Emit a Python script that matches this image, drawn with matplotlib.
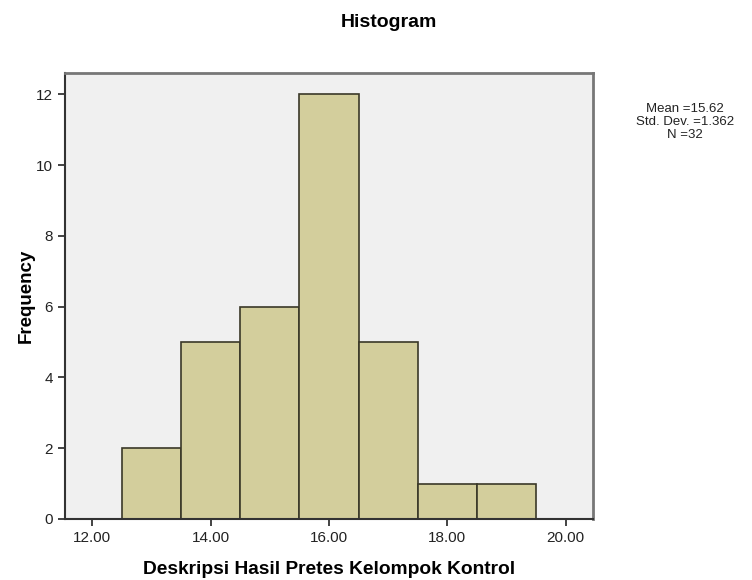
import matplotlib
matplotlib.use("Agg")
import matplotlib.pyplot as plt

plt.rcParams['font.family'] = ['Liberation Sans', 'DejaVu Sans']

bin_centers = [13, 14, 15, 16, 17, 18, 19]
frequencies = [2, 5, 6, 12, 5, 1, 1]
x_ticks = [12, 14, 16, 18, 20]
x_tick_labels = ["12.00", "14.00", "16.00", "18.00", "20.00"]
y_ticks = [0, 2, 4, 6, 8, 10, 12]
stats_text = "Mean =15.62\nStd. Dev. =1.362\nN =32"

fig = plt.figure(figsize=(7.52, 5.8), dpi=100)
ax = fig.add_axes([0.0864, 0.1052, 0.702, 0.7695])
ax.set_facecolor('#F0F0F0')
ax.bar(bin_centers, frequencies, width=1.0, color='#D3CE9C',
       edgecolor='#3A3828', linewidth=1.2, zorder=2)
ax.set_xlim(11.54, 20.46)
ax.set_ylim(0, 12.61)
ax.set_xticks(x_ticks)
ax.set_xticklabels(x_tick_labels)
ax.set_yticks(y_ticks)
ax.tick_params(axis='both', direction='out', length=5, width=1.2,
               labelsize=11, colors='#222222')
for s in ['top', 'right']:
    ax.spines[s].set_color('#777777')
    ax.spines[s].set_linewidth(2)
for s in ['left', 'bottom']:
    ax.spines[s].set_color('#333333')
    ax.spines[s].set_linewidth(1.5)

ax.set_xlabel("Deskripsi Hasil Pretes Kelompok Kontrol", fontsize=13.8,
              fontweight='bold', labelpad=12)
ax.set_ylabel("Frequency", fontsize=13.5, fontweight='bold', labelpad=1)
fig.text(0.517, 0.962, "Histogram", fontsize=14, fontweight='bold',
         ha='center', va='center')
fig.text(0.911, 0.7897, stats_text, fontsize=9.5, ha='center', va='center',
         linespacing=1.15, color='#222222')

fig.savefig("out.png", dpi=100)
